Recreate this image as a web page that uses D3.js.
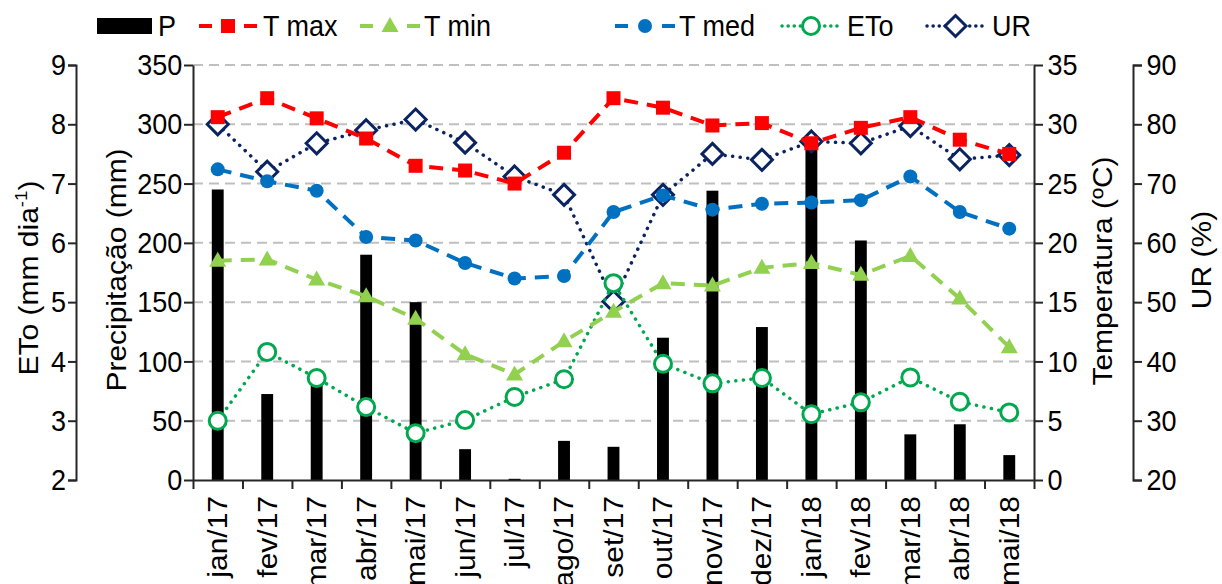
<!DOCTYPE html>
<html>
<head>
<meta charset="utf-8">
<script src="https://cdn.jsdelivr.net/npm/d3@7"></script>
<style>
  body { margin: 0; background: #fff; }
  svg { display: block; font-family: "Liberation Sans", Arial, sans-serif; }
</style>
</head>
<body>
<div id="chart"></div>
<script>
// months and series
const months = ["jan/17", "fev/17", "mar/17", "abr/17", "mai/17", "jun/17", "jul/17", "ago/17", "set/17",
  "out/17", "nov/17", "dez/17", "jan/18", "fev/18", "mar/18", "abr/18", "mai/18"];
const precip = [245, 72.5, 82, 190, 150, 26, 1, 33, 28, 120, 244, 129, 290, 202, 38.5, 47, 21];
const tMax = [30.6, 32.2, 30.5, 28.8, 26.5, 26.1, 25.0, 27.6, 32.2, 31.4, 29.9, 30.1, 28.4, 29.7, 30.6, 28.7, 27.5];
const tMin = [18.5, 18.6, 16.9, 15.5, 13.6, 10.6, 8.9, 11.7, 14.2, 16.6, 16.4, 17.9, 18.3, 17.3, 18.9, 15.3, 11.2];
const tMed = [26.2, 25.2, 24.4, 20.5, 20.2, 18.3, 17.0, 17.2, 22.6, 24.0, 22.8, 23.3, 23.4, 23.6, 25.6, 22.6, 21.2];
const eto = [3.0, 4.16, 3.72, 3.23, 2.79, 3.01, 3.40, 3.70, 5.32, 3.96, 3.63, 3.72, 3.11, 3.31, 3.73, 3.32, 3.14];
const ur = [80, 72, 76.8, 79, 80.8, 76.9, 71.2, 68.1, 50.1, 68.1, 75, 74, 77.1, 76.8, 79.7, 74.1, 74.8];

const precipTicks = d3.range(0, 351, 50);
const tempTicks = d3.range(0, 36, 5);
const etoTicks = d3.range(2, 10, 1);
const urTicks = d3.range(20, 91, 10);

const width = 1222, height = 584;
const plotL = 193, plotR = 1034, plotT = 65, plotB = 480;
const etoAxisX = 76, urAxisX = 1133;
const fs = 30, sx = 0.9; // text looks horizontally squeezed in the original

const svg = d3.select("#chart").append("svg")
  .attr("width", width).attr("height", height);

const x = d3.scaleBand().domain(months).range([plotL, plotR]).paddingInner(0.76).paddingOuter(0.38);
const xc = d => x(d) + x.bandwidth() / 2;
const xEdge = d3.scaleLinear().domain([0, months.length]).range([plotL, plotR]);
const yP = d3.scaleLinear().domain([0, 350]).range([plotB, plotT]);
const yT = d3.scaleLinear().domain([0, 35]).range([plotB, plotT]);
const yE = d3.scaleLinear().domain([2, 9]).range([plotB, plotT]);
const yU = d3.scaleLinear().domain([20, 90]).range([plotB, plotT]);

// gridlines
svg.append("g").selectAll("line")
  .data(precipTicks.filter(d => d > 0))
  .join("line")
  .attr("x1", plotL).attr("x2", plotR)
  .attr("y1", d => yP(d)).attr("y2", d => yP(d))
  .attr("stroke", "#bfbfbf").attr("stroke-width", 2)
  .attr("stroke-dasharray", "10,6");

// bars
svg.append("g").selectAll("rect")
  .data(months)
  .join("rect")
  .attr("x", d => x(d))
  .attr("width", x.bandwidth())
  .attr("y", (d, i) => yP(precip[i]))
  .attr("height", (d, i) => plotB - yP(precip[i]))
  .attr("fill", "#000");

function styleAxis(g) {
  g.selectAll("path, line").attr("stroke", "#262626").attr("stroke-width", 2);
  g.selectAll("text").attr("font-size", fs).attr("fill", "#000")
    .attr("font-family", "Liberation Sans, Arial, sans-serif");
}
function squish(g) {
  g.selectAll("text").attr("transform", `scale(${sx},1)`);
}

// axes
svg.append("g").attr("transform", `translate(${plotL},0)`)
  .call(d3.axisLeft(yP).tickValues(precipTicks).tickSize(9).tickSizeOuter(0).tickPadding(3))
  .call(styleAxis).call(squish);
svg.append("g").attr("transform", `translate(${etoAxisX},0)`)
  .call(d3.axisLeft(yE).tickValues(etoTicks).tickFormat(d3.format("d")).tickSize(8).tickSizeOuter(8).tickPadding(3))
  .call(styleAxis).call(squish);
svg.append("g").attr("transform", `translate(${plotR},0)`)
  .call(d3.axisRight(yT).tickValues(tempTicks).tickSize(9).tickSizeOuter(0).tickPadding(6))
  .call(styleAxis).call(squish);
svg.append("g").attr("transform", `translate(${urAxisX},0)`)
  .call(d3.axisRight(yU).tickValues(urTicks).tickSize(9).tickSizeOuter(9).tickPadding(6))
  .call(styleAxis).call(squish);

svg.append("g").attr("transform", `translate(0,${plotB})`)
  .call(d3.axisBottom(xEdge).tickValues(d3.range(0, months.length + 1)).tickFormat("").tickSize(9).tickSizeOuter(0))
  .call(styleAxis);
const xl = svg.append("g").attr("transform", `translate(0,${plotB})`)
  .call(d3.axisBottom(x).tickSize(0).tickPadding(0));
xl.select(".domain").remove();
xl.call(styleAxis);
xl.selectAll("text")
  .attr("text-anchor", "end")
  .attr("x", 0).attr("y", 0).attr("dy", "0.35em")
  .attr("transform", `translate(0,16) rotate(-90) scale(1,${sx})`);

// axis titles
function title(txt, cx, cy, sup) {
  const t = svg.append("text")
    .attr("transform", `translate(${cx},${cy}) rotate(-90) scale(1,${sx})`)
    .attr("text-anchor", "middle")
    .attr("font-size", fs).text(txt);
  if (sup) {
    t.append("tspan").attr("font-size", fs * 0.62).attr("dy", -12).text(sup);
    t.append("tspan").attr("dy", 12).text(")");
  }
}
title("ETo (mm dia", 38, 278, "-1");
title("Precipitação (mm)", 126, 270);
title("Temperatura (ºC)", 1112, 271);
title("UR (%)", 1211, 260);

// series drawing
const series = [
  { name: "UR", vals: ur, y: yU, color: "#0b2461", dash: "0.1,7.5", width: 3.5, marker: "diamond" },
  { name: "ETo", vals: eto, y: yE, color: "#00a84f", dash: "0.1,7.5", width: 3.5, marker: "open" },
  { name: "T med", vals: tMed, y: yT, color: "#0070c0", dash: "14,9", width: 4, marker: "dot" },
  { name: "T min", vals: tMin, y: yT, color: "#92d050", dash: "14,9", width: 4, marker: "tri" },
  { name: "T max", vals: tMax, y: yT, color: "#ff0000", dash: "14,9", width: 4, marker: "square" }
];

function drawMarker(g, type, color) {
  if (type === "square") {
    g.append("rect").attr("x", -7).attr("y", -7).attr("width", 14).attr("height", 14).attr("fill", color);
  } else if (type === "tri") {
    g.append("path").attr("d", "M0,-9L8.5,6L-8.5,6Z").attr("fill", color);
  } else if (type === "dot") {
    g.append("circle").attr("r", 7).attr("fill", color);
  } else if (type === "open") {
    g.append("circle").attr("r", 8.5).attr("fill", "#fff").attr("stroke", color).attr("stroke-width", 3);
  } else if (type === "diamond") {
    g.append("path").attr("d", "M0,-10.5L10.5,0L0,10.5L-10.5,0Z").attr("fill", "#fff")
      .attr("stroke", color).attr("stroke-width", 3).attr("stroke-linejoin", "miter");
  }
}

series.forEach(s => {
  const line = d3.line().x((d, i) => xc(months[i])).y(d => s.y(d));
  svg.append("path").datum(s.vals)
    .attr("d", line)
    .attr("fill", "none")
    .attr("stroke", s.color)
    .attr("stroke-width", s.width)
    .attr("stroke-dasharray", s.dash)
    .attr("stroke-linecap", s.marker === "open" || s.marker === "diamond" ? "round" : "butt");
  svg.append("g").selectAll("g")
    .data(s.vals)
    .join("g")
    .attr("transform", (d, i) => `translate(${xc(months[i])},${s.y(d)})`)
    .each(function () { drawMarker(d3.select(this), s.marker, s.color); });
});

// legend
const legY = 26, legBase = 36;
const leg = svg.append("g");
leg.append("rect").attr("x", 97).attr("y", 18).attr("width", 55).attr("height", 16).attr("fill", "#000");
leg.append("text").attr("transform", `translate(158,${legBase}) scale(${sx},1)`).attr("font-size", fs).text("P");

const legItems = [
  { s: series[4], x0: 199, x1: 257, tx: 263 },
  { s: series[3], x0: 360, x1: 420, tx: 424 },
  { s: series[2], x0: 615, x1: 675, tx: 679 },
  { s: series[1], x0: 782, x1: 840, tx: 847 },
  { s: series[0], x0: 927, x1: 984, tx: 992 }
];
legItems.forEach(it => {
  const s = it.s;
  const mx = (it.x0 + it.x1) / 2;
  if (s.marker === "open" || s.marker === "diamond") {
    leg.append("line").attr("x1", it.x0).attr("x2", it.x1).attr("y1", legY).attr("y2", legY)
      .attr("stroke", s.color).attr("stroke-width", 3.5).attr("stroke-dasharray", "0.1,6")
      .attr("stroke-linecap", "round");
  } else {
    leg.append("line").attr("x1", it.x0).attr("x2", it.x0 + 13).attr("y1", legY).attr("y2", legY)
      .attr("stroke", s.color).attr("stroke-width", 4);
    leg.append("line").attr("x1", it.x1 - 13).attr("x2", it.x1).attr("y1", legY).attr("y2", legY)
      .attr("stroke", s.color).attr("stroke-width", 4);
  }
  const m = leg.append("g").attr("transform", `translate(${mx},${legY})`);
  drawMarker(m, s.marker, s.color);
  leg.append("text").attr("transform", `translate(${it.tx},${legBase}) scale(${sx},1)`)
    .attr("font-size", fs).text(s.name);
});
</script>
</body>
</html>
